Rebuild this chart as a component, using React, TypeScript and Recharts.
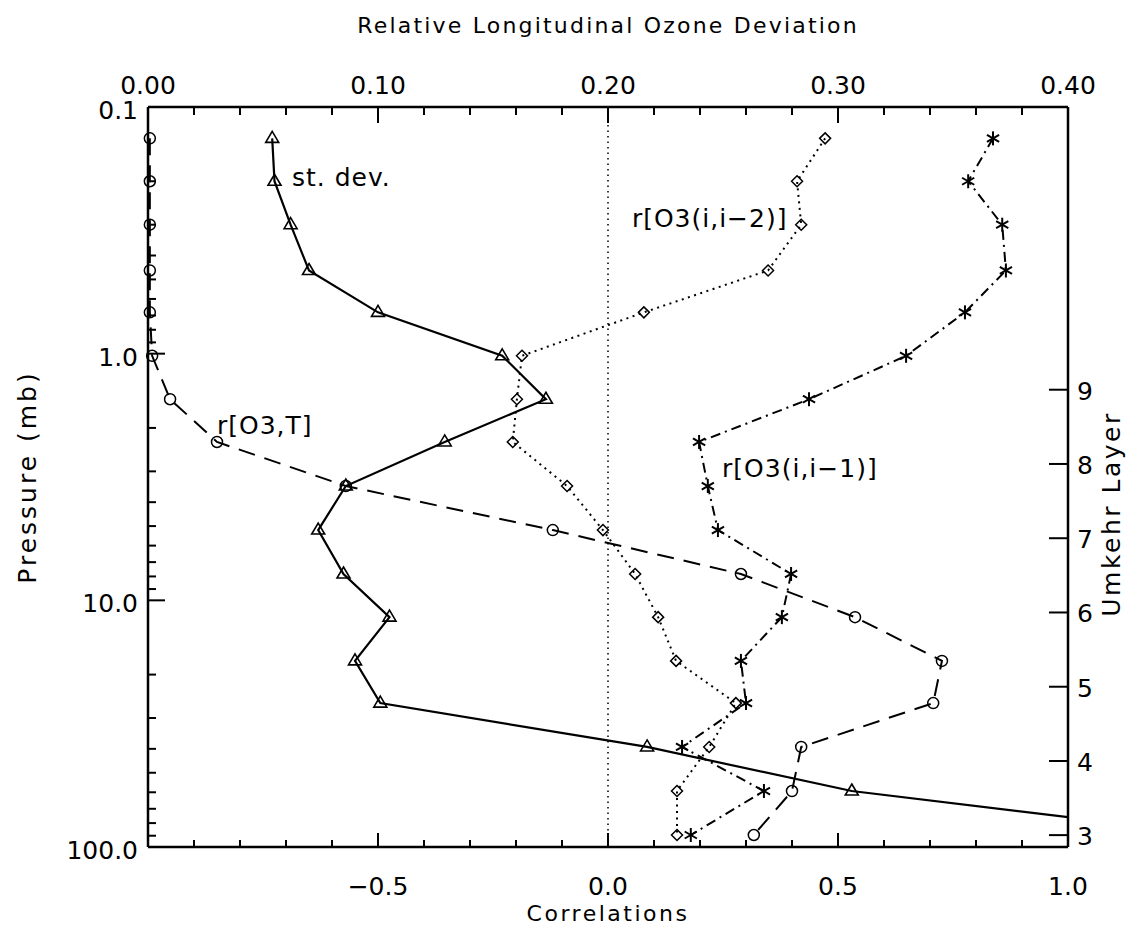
import React from "react";
import { ScatterChart, Scatter, XAxis, YAxis, ReferenceLine, ReferenceDot } from "recharts";

document.body.style.margin = "0";

// pressure levels (mb) of the profiles, top to bottom
const pressure = [0.134, 0.2, 0.3, 0.46, 0.68, 1.02, 1.53, 2.28, 3.44, 5.19, 7.82, 11.7, 17.6, 26.1, 39.3, 59.3, 89.4];

// relative longitudinal ozone deviation (top axis)
const stDev = [0.054, 0.055, 0.062, 0.07, 0.1, 0.154, 0.173, 0.129, 0.086, 0.074, 0.085, 0.105, 0.09, 0.101, 0.217, 0.306, 0.464];
// correlations (bottom axis)
const rLag2 = [0.472, 0.411, 0.42, 0.348, 0.078, -0.187, -0.198, -0.207, -0.089, -0.011, 0.059, 0.109, 0.148, 0.278, 0.22, 0.15, 0.15];
const rLag1 = [0.837, 0.783, 0.857, 0.865, 0.776, 0.648, 0.437, 0.198, 0.217, 0.239, 0.398, 0.378, 0.289, 0.3, 0.161, 0.339, 0.18];
const rO3T = [-0.996, -0.996, -0.996, -0.996, -0.996, -0.991, -0.952, -0.85, -0.57, -0.12, 0.289, 0.537, 0.726, 0.707, 0.42, 0.4, 0.317];

const corrDomain = [-1, 1];
const corrTicks = [-1, -0.9, -0.8, -0.7, -0.6, -0.5, -0.4, -0.3, -0.2, -0.1, 0, 0.1, 0.2, 0.3, 0.4, 0.5, 0.6, 0.7, 0.8, 0.9, 1];
const corrMajor = [-0.5, 0, 0.5, 1];
const corrLabels = ["−0.5", "0.0", "0.5", "1.0"];

const devDomain = [0, 0.4];
const devTicks = [0, 0.02, 0.04, 0.06, 0.08, 0.1, 0.12, 0.14, 0.16, 0.18, 0.2, 0.22, 0.24, 0.26, 0.28, 0.3, 0.32, 0.34, 0.36, 0.38, 0.4];
const devMajor = [0, 0.1, 0.2, 0.3, 0.4];
const devLabels = ["0.00", "0.10", "0.20", "0.30", "0.40"];

const pDomain = [0.1, 100];
const pTicks = [0.1, 0.2, 0.3, 0.4, 0.5, 0.6, 0.7, 0.8, 0.9, 1, 2, 3, 4, 5, 6, 7, 8, 9, 10, 20, 30, 40, 50, 60, 70, 80, 90, 100];
const pMajor = [0.1, 1, 10, 100];
const pLabels = ["0.1", "1.0", "10.0", "100.0"];

const umkehrP = [89.5, 44.8, 22.4, 11.2, 5.6, 2.8, 1.4];
const umkehrLabels = ["3", "4", "5", "6", "7", "8", "9"];

// curve labels: the st. dev. one sits on the top axis scale, the others on correlations
const stDevLabel = { text: "st. dev.", dev: 0.0626, p: 0.192 };
const annoText = ["r[O3(i,i−2)]", "r[O3(i,i−1)]", "r[O3,T]"];
const annoCorr = [0.052, 0.248, -0.85];
const annoP = [0.282, 2.91, 1.95];

const W = 1130;
const H = 926;
const LEFT = 148;
const RIGHT = 62;
const TOP = 107;
const BOTTOM = 79;
const FONT = "DejaVu Sans, Liberation Sans, sans-serif";

const pts = (xs: number[]) => xs.map((x, i) => ({ x, p: pressure[i] }));

const find = (arr: number[], v: number) => arr.findIndex((m) => Math.abs(m - v) < 1e-6);

// inward tick marks, placed through the chart scales on the frame edges
const bottomMarks = corrTicks.map((v) => ({ x: v, p: pDomain[1], major: find(corrMajor, v) >= 0 }));
const topMarks = devTicks.map((v) => ({ x: v, p: pDomain[0], major: find(devMajor, v) >= 0 }));
const leftMarks = pTicks.map((v) => ({ x: corrDomain[0], p: v, major: find(pMajor, v) >= 0 }));
const rightMarks = umkehrP.map((v) => ({ x: corrDomain[1], p: v, major: true }));

const isMajor = (props: any) => Boolean(props.payload ? props.payload.major : props.major);

const BottomMark = (props: any) => {
  const { cx, cy } = props;
  return <line x1={cx} y1={cy} x2={cx} y2={cy - (isMajor(props) ? 14 : 7)} stroke="#000" strokeWidth={2} />;
};
const TopMark = (props: any) => {
  const { cx, cy } = props;
  return <line x1={cx} y1={cy} x2={cx} y2={cy + (isMajor(props) ? 16 : 8)} stroke="#000" strokeWidth={2} />;
};
const LeftMark = (props: any) => {
  const { cx, cy } = props;
  return <line x1={cx} y1={cy} x2={cx + (isMajor(props) ? 17 : 8)} y2={cy} stroke="#000" strokeWidth={2} />;
};
const RightMark = (props: any) => {
  const { cx, cy } = props;
  return <line x1={cx} y1={cy} x2={cx - 19} y2={cy} stroke="#000" strokeWidth={2} />;
};

function BottomTick(props: any) {
  const { x, y, payload } = props;
  const i = find(corrMajor, payload.value);
  if (i < 0) return null;
  return (
    <text x={x} y={y + 48} textAnchor="middle" fontSize={25} fill="#000" fontFamily={FONT}>
      {corrLabels[i]}
    </text>
  );
}

function TopTick(props: any) {
  const { x, y, payload } = props;
  const i = find(devMajor, payload.value);
  if (i < 0) return null;
  return (
    <text x={x} y={y - 13} textAnchor="middle" fontSize={25} fill="#000" fontFamily={FONT}>
      {devLabels[i]}
    </text>
  );
}

function LeftTick(props: any) {
  const { x, y, payload } = props;
  const i = find(pMajor, payload.value);
  if (i < 0) return null;
  return (
    <text x={x - 10} y={y + 12} textAnchor="end" fontSize={25} fill="#000" fontFamily={FONT}>
      {pLabels[i]}
    </text>
  );
}

function RightTick(props: any) {
  const { x, y, payload } = props;
  const i = find(umkehrP, payload.value);
  if (i < 0) return null;
  return (
    <text x={x + 9} y={y + 10} textAnchor="start" fontSize={25} fill="#000" fontFamily={FONT}>
      {umkehrLabels[i]}
    </text>
  );
}

const Triangle = (props: any) => {
  const { cx, cy } = props;
  return (
    <path
      d={`M${cx},${cy - 7} L${cx + 6.5},${cy + 4} L${cx - 6.5},${cy + 4} Z`}
      fill="none"
      stroke="#000"
      strokeWidth={1.6}
    />
  );
};

const Circle = (props: any) => {
  const { cx, cy } = props;
  return <circle cx={cx} cy={cy} r={5.5} fill="none" stroke="#000" strokeWidth={1.5} />;
};

const Diamond = (props: any) => {
  const { cx, cy } = props;
  return (
    <path
      d={`M${cx},${cy - 5.5} L${cx + 5.5},${cy} L${cx},${cy + 5.5} L${cx - 5.5},${cy} Z`}
      fill="none"
      stroke="#000"
      strokeWidth={1.5}
    />
  );
};

const Asterisk = (props: any) => {
  const { cx, cy } = props;
  const r = 7;
  const dx = r * 0.87;
  const dy = r * 0.5;
  return (
    <g stroke="#000" strokeWidth={2}>
      <line x1={cx} y1={cy - r} x2={cx} y2={cy + r} />
      <line x1={cx - dx} y1={cy - dy} x2={cx + dx} y2={cy + dy} />
      <line x1={cx - dx} y1={cy + dy} x2={cx + dx} y2={cy - dy} />
    </g>
  );
};

const TopTitle = () => (
  <text x={608} y={33} textAnchor="middle" fontSize={22} letterSpacing={2.2} fill="#000" fontFamily={FONT}>
    Relative Longitudinal Ozone Deviation
  </text>
);

const BottomTitle = () => (
  <text x={608} y={921} textAnchor="middle" fontSize={22} letterSpacing={2.5} fill="#000" fontFamily={FONT}>
    Correlations
  </text>
);

const LeftTitle = () => (
  <text
    x={36}
    y={477}
    textAnchor="middle"
    fontSize={25}
    letterSpacing={3}
    fill="#000"
    fontFamily={FONT}
    transform="rotate(-90 36 477)"
  >
    Pressure (mb)
  </text>
);

const RightTitle = () => (
  <text
    x={1120}
    y={514}
    textAnchor="middle"
    fontSize={25}
    letterSpacing={2.5}
    fill="#000"
    fontFamily={FONT}
    transform="rotate(-90 1120 514)"
  >
    Umkehr Layer
  </text>
);

const annoStyle = { position: "right" as const, offset: 0, fontSize: 25, letterSpacing: 1, fill: "#000", fontFamily: FONT };

export default function App() {
  const axisLine = { stroke: "#000", strokeWidth: 2.5 };
  return (
    <div style={{ width: W, height: H, background: "#fff" }}>
      <ScatterChart width={W} height={H} margin={{ top: 0, right: 0, bottom: 0, left: 0 }} style={{ fontFamily: FONT }}>
        <XAxis
          xAxisId="corr"
          orientation="bottom"
          type="number"
          dataKey="x"
          domain={corrDomain}
          ticks={corrTicks}
          interval={0}
          height={BOTTOM}
          tickSize={0}
          tickMargin={0}
          tickLine={false}
          axisLine={axisLine}
          tick={<BottomTick />}
          label={BottomTitle}
        />
        <XAxis
          xAxisId="dev"
          orientation="top"
          type="number"
          dataKey="x"
          domain={devDomain}
          ticks={devTicks}
          interval={0}
          height={TOP}
          tickSize={0}
          tickMargin={0}
          tickLine={false}
          axisLine={axisLine}
          tick={<TopTick />}
          label={TopTitle}
        />
        {/* same scale as the top axis, but clipping the st. dev. curve where it leaves the box */}
        <XAxis
          xAxisId="devClip"
          orientation="top"
          type="number"
          dataKey="x"
          domain={devDomain}
          allowDataOverflow
          hide
        />
        <YAxis
          yAxisId="p"
          orientation="left"
          type="number"
          dataKey="p"
          scale="log"
          domain={pDomain}
          reversed
          ticks={pTicks}
          interval={0}
          width={LEFT}
          tickSize={0}
          tickMargin={0}
          tickLine={false}
          axisLine={axisLine}
          tick={<LeftTick />}
          label={LeftTitle}
        />
        <YAxis
          yAxisId="umk"
          orientation="right"
          type="number"
          dataKey="p"
          scale="log"
          domain={pDomain}
          reversed
          ticks={umkehrP}
          interval={0}
          width={RIGHT}
          tickSize={0}
          tickMargin={0}
          tickLine={false}
          axisLine={axisLine}
          tick={<RightTick />}
          label={RightTitle}
        />
        <Scatter data={bottomMarks} xAxisId="corr" yAxisId="p" shape={BottomMark} isAnimationActive={false} />
        <Scatter data={topMarks} xAxisId="devClip" yAxisId="p" shape={TopMark} isAnimationActive={false} />
        <Scatter data={leftMarks} xAxisId="corr" yAxisId="p" shape={LeftMark} isAnimationActive={false} />
        <Scatter data={rightMarks} xAxisId="corr" yAxisId="umk" shape={RightMark} isAnimationActive={false} />
        <ReferenceLine
          x={0}
          xAxisId="corr"
          yAxisId="p"
          stroke="#000"
          strokeWidth={1.5}
          strokeDasharray="1.5 4"
        />
        <Scatter
          name="st. dev."
          data={pts(stDev)}
          xAxisId="devClip"
          yAxisId="p"
          line={{ stroke: "#000", strokeWidth: 2.2 }}
          lineType="joint"
          shape={Triangle}
          isAnimationActive={false}
        />
        <Scatter
          name="r[O3,T]"
          data={pts(rO3T)}
          xAxisId="corr"
          yAxisId="p"
          line={{ stroke: "#000", strokeWidth: 2, strokeDasharray: "17 10" }}
          lineType="joint"
          shape={Circle}
          isAnimationActive={false}
        />
        <Scatter
          name="r[O3(i,i-2)]"
          data={pts(rLag2)}
          xAxisId="corr"
          yAxisId="p"
          line={{ stroke: "#000", strokeWidth: 2, strokeDasharray: "2 4.5" }}
          lineType="joint"
          shape={Diamond}
          isAnimationActive={false}
        />
        {/* the Umkehr axis is the same pressure scale, labelled by layer */}
        <Scatter
          name="r[O3(i,i-1)]"
          data={pts(rLag1)}
          xAxisId="corr"
          yAxisId="umk"
          line={{ stroke: "#000", strokeWidth: 2, strokeDasharray: "10 5 2 5" }}
          lineType="joint"
          shape={Asterisk}
          isAnimationActive={false}
        />
        <ReferenceDot
          x={stDevLabel.dev}
          y={stDevLabel.p}
          xAxisId="dev"
          yAxisId="p"
          r={0}
          fill="none"
          stroke="none"
          ifOverflow="extendDomain"
          label={{ value: stDevLabel.text, ...annoStyle }}
        />
        {annoText.map((t, i) => (
          <ReferenceDot
            key={t}
            x={annoCorr[i]}
            y={annoP[i]}
            xAxisId="corr"
            yAxisId="p"
            r={0}
            fill="none"
            stroke="none"
            label={{ value: t, ...annoStyle }}
          />
        ))}
      </ScatterChart>
    </div>
  );
}
